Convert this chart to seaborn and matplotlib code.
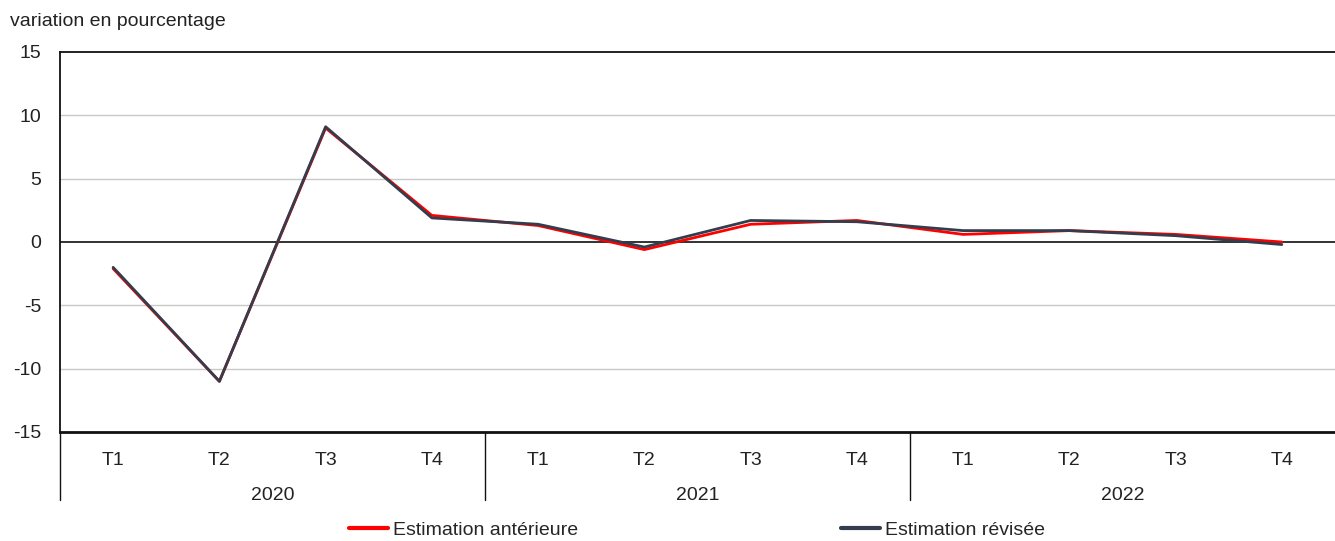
import pandas as pd
import matplotlib
matplotlib.use("Agg")
import matplotlib.pyplot as plt
import seaborn as sns

# Data
years = ["2020", "2021", "2022"]
quarters = ["T1", "T2", "T3", "T4"]
anterieure = [-2.1, -11.0, 9.0, 2.1, 1.3, -0.6, 1.4, 1.7, 0.6, 0.9, 0.6, 0.0]
revisee = [-2.0, -11.0, 9.1, 1.9, 1.4, -0.4, 1.7, 1.6, 0.9, 0.9, 0.5, -0.2]
series_names = ["Estimation antérieure", "Estimation révisée"]
y_ticks = [-15, -10, -5, 0, 5, 10, 15]

# Long format table for seaborn
n = len(anterieure)
df = pd.DataFrame({
    "pos": list(range(n)) * 2,
    "valeur": anterieure + revisee,
    "serie": [series_names[0]] * n + [series_names[1]] * n,
})

sns.set_style("white")
plt.rcParams["font.family"] = ["Liberation Sans", "DejaVu Sans"]
fs = 14
text_color = "#222222"

fig = plt.figure(figsize=(13.35, 5.41), dpi=100)
ax = fig.add_axes([60 / 1335, 109 / 541, 1275 / 1335, 380 / 541])

palette = {series_names[0]: "#FF0000", series_names[1]: "#333D4D"}
sns.lineplot(data=df, x="pos", y="valeur", hue="serie", palette=palette,
             linewidth=2.0, ax=ax, legend=True, zorder=3)

ax.set_xlim(-0.5, n - 0.5)
ax.set_ylim(-15, 15)
ax.set_yticks(y_ticks)
ax.set_yticklabels([str(t) for t in y_ticks], color=text_color)
ax.tick_params(axis="y", length=0, pad=13.5, labelsize=fs)
ax.set_xticks([])
ax.set_xlabel("")
ax.set_ylabel("")

# gridlines and zero line
for t in y_ticks[1:-1]:
    if t == 0:
        ax.axhline(0, color="#222222", linewidth=1.3, zorder=2)
    else:
        ax.axhline(t, color="#C8C8C8", linewidth=1.0, zorder=1)

for side in ["top", "left", "bottom"]:
    ax.spines[side].set_color("#111111")
    ax.spines[side].set_linewidth(1.3)
ax.spines["bottom"].set_linewidth(2.0)
ax.spines["right"].set_visible(False)

# two-level category axis
trans = ax.get_xaxis_transform()
for i in range(n):
    ax.text(i, -0.075, quarters[i % 4], transform=trans, ha="center", va="center",
            fontsize=fs, color=text_color)
for k, yr in enumerate(years):
    ax.text(4 * k + 1.5, -0.166, yr, transform=trans, ha="center", va="center",
            fontsize=fs, color=text_color)
for xb in [-0.5, 3.5, 7.5]:
    ax.plot([xb, xb], [0, -0.18], transform=trans, color="#111111",
            linewidth=1.0, clip_on=False)

fig.text(10 / 1335, 1 - 22 / 541, "variation en pourcentage", ha="left", va="center",
         fontsize=fs, color=text_color)

handles, labels = ax.get_legend_handles_labels()
ax.legend(handles, labels, loc="center", bbox_to_anchor=(697 / 1335, 11 / 541),
          bbox_transform=fig.transFigure, ncol=2, frameon=False, fontsize=fs,
          handlelength=2.0, handletextpad=0.25, columnspacing=13.5)
for line in ax.get_legend().get_lines():
    line.set_linewidth(3.0)

fig.savefig("out.png", dpi=100)
